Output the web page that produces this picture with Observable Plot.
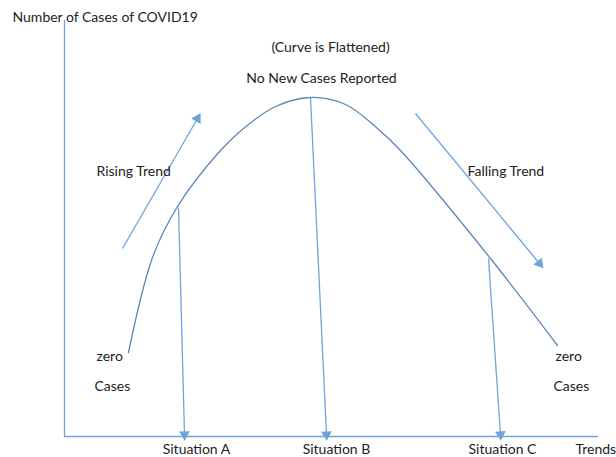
<!DOCTYPE html>
<html><head><meta charset="utf-8">
<script src="https://cdn.jsdelivr.net/npm/d3@7"></script>
<script src="https://cdn.jsdelivr.net/npm/@observablehq/plot@0.6"></script>
<style>body{margin:0;background:#fff}</style>
</head><body><div id="chart"></div>
<script>
// Diagram space: x = trend position (0..616), y = cases level (0 at top .. 457 at bottom)
const curveX = [128, 152, 177, 220, 243, 275, 310, 345, 377, 400, 490, 557];
const curveY = [352, 257, 206, 150, 128, 106, 97, 104, 128, 150, 258, 345];
const axisX = [[64, 20], [64, 436], [597, 436]];
const dropStart = [[178, 207], [310, 97], [488, 258]];
const dropEnd = [[184, 434], [326, 434], [500, 434]];
const trendStart = [[122, 248], [415, 113]];
const trendEnd = [[197, 118], [539, 263]];
const startLabels = [
  {x: 12, y: 17, t: "Number of Cases of COVID19"},
  {x: 96, y: 171, t: "Rising Trend"},
  {x: 467, y: 171, t: "Falling Trend"},
  {x: 96, y: 356, t: "zero"},
  {x: 94, y: 386, t: "Cases"},
  {x: 555, y: 356, t: "zero"},
  {x: 553, y: 386, t: "Cases"},
  {x: 575, y: 449, t: "Trends"}
];
const middleLabels = [
  {x: 330, y: 47, t: "(Curve is Flattened)"},
  {x: 321, y: 78, t: "No New Cases Reported"},
  {x: 196, y: 449, t: "Situation A"},
  {x: 336, y: 449, t: "Situation B"},
  {x: 502, y: 449, t: "Situation C"}
];

const curve = curveX.map((x, i) => ({x, y: curveY[i]}));
const axis = axisX.map(([x, y]) => ({x, y}));
const arrows = dropStart.map((s, i) => ({x1: s[0], y1: s[1], x2: dropEnd[i][0], y2: dropEnd[i][1]}))
  .concat(trendStart.map((s, i) => ({x1: s[0], y1: s[1], x2: trendEnd[i][0], y2: trendEnd[i][1]})));
const heads = arrows.map(d => ({x: d.x2, y: d.y2, r: Math.atan2(d.x2 - d.x1, -(d.y2 - d.y1)) * 180 / Math.PI}));

const lineBlue = "#6fa3dc";
const chart = Plot.plot({
  width: 616, height: 457,
  margin: 0,
  x: {domain: [0, 616], axis: null},
  y: {domain: [457, 0], axis: null},
  style: {fontFamily: "Lato, 'Open Sans', sans-serif", fontSize: "14px", background: "#fff"},
  marks: [
    Plot.line(axis, {x: "x", y: "y", stroke: lineBlue, strokeWidth: 1.3}),
    Plot.line(curve, {x: "x", y: "y", curve: "catmull-rom", stroke: "#5a86b8", strokeWidth: 1.3}),
    Plot.link(arrows, {x1: "x1", y1: "y1", x2: "x2", y2: "y2", stroke: lineBlue, strokeWidth: 1.3}),
    Plot.dot(heads, {x: "x", y: "y", rotate: "r", symbol: "triangle", r: 4, fill: lineBlue, stroke: null}),
    Plot.text(startLabels, {x: "x", y: "y", text: "t", textAnchor: "start", fill: "#222", fontSize: 14}),
    Plot.text(middleLabels, {x: "x", y: "y", text: "t", textAnchor: "middle", fill: "#222", fontSize: 14})
  ]
});
document.getElementById("chart").append(chart);
</script>
</body></html>
